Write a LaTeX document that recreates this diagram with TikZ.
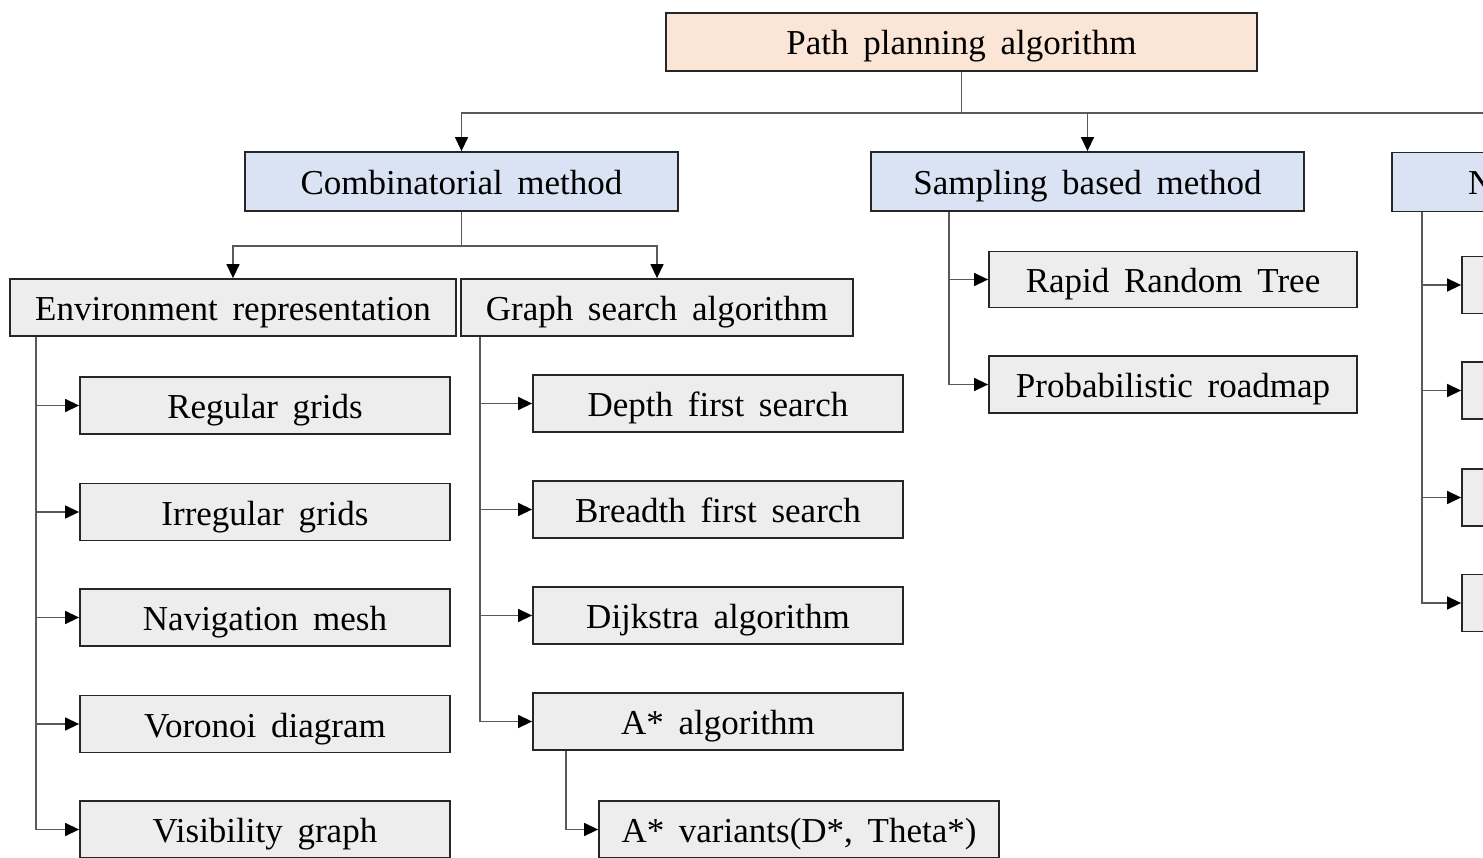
\documentclass[tikz,border=0pt]{standalone}
\usepackage{fontspec}
\setmainfont{Liberation Serif}
\usetikzlibrary{arrows.meta}

\definecolor{peach}{HTML}{FBE5D6}
\definecolor{lightblue}{HTML}{DAE3F3}
\definecolor{lightgray}{HTML}{EDEDED}
\definecolor{linegray}{HTML}{595959}
\newcommand{\boxfont}{\fontsize{35}{42}\selectfont\spaceskip 0.42em\relax}

\begin{document}
\begin{tikzpicture}[x=1pt, y=-1pt,
	box/.style={rectangle, draw=black!85, line width=1.8pt, fill=lightgray, minimum width=370pt, minimum height=57pt, inner sep=0pt,
		text height=26pt, text depth=0pt, font=\boxfont},
	catbox/.style={box, fill=lightblue, minimum width=433pt, minimum height=59pt},
	rootbox/.style={box, fill=peach, minimum width=591pt, minimum height=58pt},
	link/.style={draw=linegray, line width=1.4pt},
	arr/.style={link, -{Triangle[length=14pt, width=13pt, black]}}]
				\useasboundingbox (0,0) rectangle (1483,858);
				\clip (0,0) rectangle (1483,858);

				% top levels
				\node[rootbox] (root) at (961.5, 42) {Path planning algorithm};
				\node[catbox] (comb) at (461.5, 181.5) {Combinatorial method};
				\node[catbox] (samp) at (1087.5, 181.5) {Sampling based method};
				\node[catbox] (num) at (1608.5, 182) {Numerical methods};
				\node[box, minimum width=446pt] (env) at (233, 307.5) {Environment representation};
				\node[box, minimum width=392pt] (graph) at (657, 307.5) {Graph search algorithm};

				% environment representation
				\node[box] (reg) at (265, 405.5) {Regular grids};
				\node[box] (irreg) at (265, 512) {Irregular grids};
				\node[box] (navmesh) at (265, 617.5) {Navigation mesh};
				\node[box] (voronoi) at (265, 724) {Voronoi diagram};
				\node[box] (visgraph) at (265, 829.5) {Visibility graph};

				% graph search
				\node[box] (dfs) at (718, 403.5) {Depth first search};
				\node[box] (bfs) at (718, 509.5) {Breadth first search};
				\node[box] (dijkstra) at (718, 615.5) {Dijkstra algorithm};
				\node[box] (astar) at (718, 721.5) {A* algorithm};
				\node[box, minimum width=400pt] (avar) at (799, 829.5) {A* variants(D*, Theta*)};

				% sampling based
				\node[box, minimum width=368pt, minimum height=56pt] (rrt) at (1173, 279.5) {Rapid Random Tree};
				\node[box, minimum width=368pt] (prm) at (1173, 384.5) {Probabilistic roadmap};

				% numerical
				\node[box] (n1) at (1647, 285) {};
				\node[box] (n2) at (1647, 390.5) {};
				\node[box] (n3) at (1647, 497.5) {};
				\node[box] (n4) at (1647, 603) {};

				% connectors
				\coordinate (rootbus) at (961.5, 113);
				\coordinate (combbus) at (461.5, 246);
				\draw[link] (root.south) -- (rootbus);
				\draw[arr] (rootbus) -| (comb.north);
				\draw[arr] (rootbus) -| (samp.north);
				\draw[arr] (rootbus) -| (num.north);
				\draw[link] (comb.south) -- (combbus);
				\draw[arr] (combbus) -| (env.north);
				\draw[arr] (combbus) -| (graph.north);

				\foreach \leaf in {reg, irreg, navmesh, voronoi, visgraph}
					\draw[arr] ([xshift=27pt]env.south west) |- (\leaf.west);
				\foreach \leaf in {dfs, bfs, dijkstra, astar}
					\draw[arr] ([xshift=20pt]graph.south west) |- (\leaf.west);
				\draw[arr] ([xshift=34pt]astar.south west) |- (avar.west);
				\foreach \leaf in {rrt, prm}
					\draw[arr] ([xshift=79pt]samp.south west) |- (\leaf.west);
				\foreach \leaf in {n1, n2, n3, n4}
					\draw[arr] ([xshift=31pt]num.south west) |- (\leaf.west);
			\end{tikzpicture}
\end{document}
